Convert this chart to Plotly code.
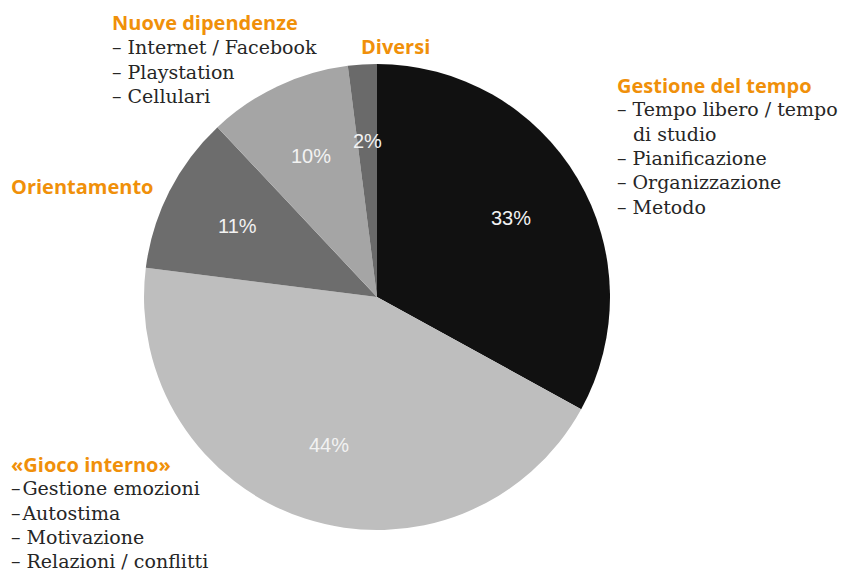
import math
import plotly.graph_objects as go

# Data
categories = ["Gestione del tempo", "«Gioco interno»", "Orientamento", "Nuove dipendenze", "Diversi"]
values = [33, 44, 11, 10, 2]
slice_colors = ["#111111", "#bebebe", "#6d6d6d", "#a5a5a5", "#6a6a6a"]

# Label blocks: (title, bullet lines)
block_titles = ["Nuove dipendenze", "Diversi", "Gestione del tempo", "Orientamento", "«Gioco interno»"]
block_lines = [
    ["– Internet / Facebook", "– Playstation", "– Cellulari"],
    [],
    ["– Tempo libero / tempo", "\u2007\u2009di studio", "– Pianificazione", "– Organizzazione", "– Metodo"],
    [],
    ["–\u200aGestione emozioni", "–\u200aAutostima", "– Motivazione", "– Relazioni / conflitti"],
]
# anchor positions in pixels (left x, title center y)
block_pos = [(111, 23), (360, 46), (616, 85), (10, 186), (10, 464)]

W, H = 846, 571
cx, cy, r = 377, 297, 233

fig = go.Figure(go.Pie(
    labels=categories,
    values=values,
    sort=False,
    direction="clockwise",
    rotation=0,
    marker=dict(colors=slice_colors, line=dict(width=0)),
    textinfo="none",
    domain=dict(x=[(cx - r) / W, (cx + r) / W], y=[(H - cy - r) / H, (H - cy + r) / H]),
    hoverinfo="label+percent",
))

# percentage labels at the mid-angle of each slice, 2/3 of the radius out
total = sum(values)
acc = 0
for v in values:
    mid = (acc + v / 2) / total * 2 * math.pi
    acc += v
    lx = cx + 0.67 * r * math.sin(mid)
    ly = cy - 0.67 * r * math.cos(mid)
    fig.add_annotation(
        x=lx / W, y=1 - ly / H, xref="paper", yref="paper",
        xanchor="center", yanchor="middle", showarrow=False,
        text=f"{round(v / total * 100)}%",
        font=dict(family="Liberation Sans, Arial", size=20, color="#f2f2f2"),
    )

orange = "#f0900a"
title_font = dict(family="Open Sans, Noto Sans, sans-serif", size=20, color=orange)
line_font = dict(family="DejaVu Serif, Liberation Serif, serif", size=19, color="#262626")
line_step = 24.3

for title, lines, (px, py) in zip(block_titles, block_lines, block_pos):
    fig.add_annotation(
        x=px / W, y=1 - py / H, xref="paper", yref="paper",
        xanchor="left", yanchor="middle", showarrow=False,
        text="<b>" + title + "</b>", font=title_font, borderpad=0,
    )
    for i, ln in enumerate(lines):
        fig.add_annotation(
            x=px / W, y=1 - (py + (i + 1) * line_step) / H, xref="paper", yref="paper",
            xanchor="left", yanchor="middle", showarrow=False,
            text=ln, font=line_font, borderpad=0,
        )

fig.update_layout(
    width=W, height=H,
    margin=dict(l=0, r=0, t=0, b=0),
    paper_bgcolor="white",
    plot_bgcolor="white",
    showlegend=False,
)

fig.write_html(
    "out.html",
    config={"displayModeBar": False},
    post_script="document.body.style.margin='0';document.body.style.overflow='hidden';",
)
